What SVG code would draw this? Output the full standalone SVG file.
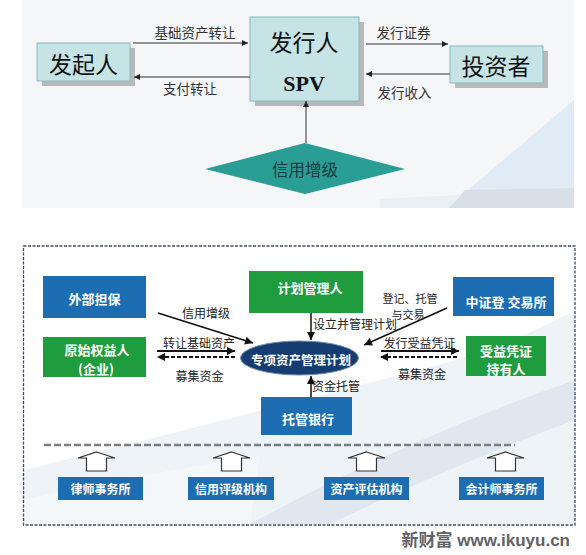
<svg xmlns="http://www.w3.org/2000/svg" width="586" height="555" viewBox="0 0 586 555">
<style>
.cj{font-family:"Noto Sans CJK SC","Liberation Sans",sans-serif}
.tb{fill:#c6e3e5;stroke:#86b7bc;stroke-width:1}
.sh{fill:#b9b9b9}
.big{font-size:23px;fill:#111}
.lb{font-size:13.5px;fill:#333}
.tl{stroke:#333;stroke-width:1;fill:none}
.bl{fill:#1c6db2}
.gr{fill:#1f9c3e}
.wt{font-size:13px;fill:#fff;font-weight:bold}
.ws{font-size:12px;fill:#fff;font-weight:bold}
.sm{font-size:12px;fill:#222}
.ln{stroke:#111;stroke-width:1.5;fill:none}
.lt{stroke:#111;stroke-width:2.2;fill:none}
.ld{stroke:#111;stroke-width:2.2;fill:none;stroke-dasharray:4 2}
.ho{fill:#fff;stroke:#333;stroke-width:1.2}
</style>
<defs>
<marker id="as" viewBox="0 0 10 10" refX="10" refY="5" markerWidth="7" markerHeight="6" orient="auto" markerUnits="userSpaceOnUse"><path d="M0,0 L10,5 L0,10 z" fill="#222"/></marker>
<marker id="ab" viewBox="0 0 10 10" refX="10" refY="5" markerWidth="9" markerHeight="8" orient="auto" markerUnits="userSpaceOnUse"><path d="M0,0 L10,5 L0,10 z" fill="#111"/></marker>
</defs>

<!-- top panel background -->
<rect x="22" y="0" width="552" height="208" fill="#f5f6f8"/>
<polygon points="574,100 574,190 462,195" fill="#e0ebf6"/>
<polygon points="448,208 574,208 574,188 465,190" fill="#d9dfe6"/>
<polygon points="380,208 448,208 462,195 380,199" fill="#eaeff4"/>

<g id="faqiren">
<rect class="sh" x="42" y="48" width="93" height="38"/>
<rect class="tb" x="37" y="43" width="93" height="38"/>
<text class="cj big" x="83.5" y="63" text-anchor="middle" dominant-baseline="central">发起人</text>
</g>
<g id="faxingren">
<rect class="sh" x="255" y="22" width="109" height="84"/>
<rect class="tb" x="250" y="17" width="109" height="84"/>
<text class="cj big" x="304" y="41" text-anchor="middle" dominant-baseline="central">发行人</text>
<text x="304" y="91" text-anchor="middle" font-family="Liberation Serif,serif" font-weight="bold" font-size="22" fill="#111">SPV</text>
</g>
<g id="touzizhe">
<rect class="sh" x="455" y="51" width="93" height="37"/>
<rect class="tb" x="450" y="46" width="93" height="37"/>
<text class="cj big" x="496" y="65" text-anchor="middle" dominant-baseline="central">投资者</text>
</g>
<g id="xinyongzengji">
<polygon points="205,169 305,143 405,169 305,194" fill="#2a9d95"/>
<text class="cj" x="305" y="169" font-size="16.5" fill="#1d3b44" text-anchor="middle" dominant-baseline="central">信用增级</text>
</g>

<g id="top-connectors">
<path class="tl" d="M133,43 H248" marker-end="url(#as)"/>
<path class="tl" d="M250,77 H134" marker-end="url(#as)"/>
<path class="tl" d="M366,44 H448" marker-end="url(#as)"/>
<path class="tl" d="M450,74 H366" marker-end="url(#as)"/>
<path class="tl" d="M306,143 V101" marker-end="url(#as)"/>
<text class="cj lb" x="195" y="32" text-anchor="middle" dominant-baseline="central">基础资产转让</text>
<text class="cj lb" x="190" y="88" text-anchor="middle" dominant-baseline="central">支付转让</text>
<text class="cj lb" x="403.5" y="32" text-anchor="middle" dominant-baseline="central">发行证券</text>
<text class="cj lb" x="404.5" y="92" text-anchor="middle" dominant-baseline="central">发行收入</text>
</g>

<!-- bottom panel -->
<rect x="23.5" y="246" width="551.5" height="279" fill="#ffffff"/>
<path d="M24,470 C150,440 300,400 420,370 C480,355 540,330 575,310 L575,524 L24,524 z" fill="#eef3f8"/>
<path d="M250,524 C350,470 460,420 575,380 L575,420 C480,455 390,495 330,524 z" fill="#e0e7ee"/>
<path d="M24,500 C100,480 180,470 260,455 L250,524 L24,524 z" fill="#f4f7fa"/>
<rect x="23.5" y="246" width="551.5" height="279" fill="none" stroke="#3f4b68" stroke-width="1.3" stroke-dasharray="3 1.5"/>

<g id="waibudanbao">
<rect class="bl" x="43" y="276" width="103" height="42"/>
<text class="cj wt" x="94.5" y="298" text-anchor="middle" dominant-baseline="central">外部担保</text>
</g>
<g id="yuanshiquanyiren">
<rect class="gr" x="43" y="337" width="103" height="40"/>
<text class="cj wt" x="97" y="349.5" text-anchor="middle" dominant-baseline="central">原始权益人</text>
<text class="cj wt" x="96" y="368" text-anchor="middle" dominant-baseline="central">(企业)</text>
</g>
<g id="jihuaguanliren">
<rect class="gr" x="249" y="271" width="114" height="42"/>
<text class="cj wt" x="310" y="287" text-anchor="middle" dominant-baseline="central">计划管理人</text>
</g>
<g id="zhongzhengdeng">
<rect class="bl" x="453" y="277" width="101" height="39"/>
<text class="cj wt" x="506" y="301" text-anchor="middle" dominant-baseline="central">中证登 交易所</text>
</g>
<g id="shouyipingzheng">
<rect class="gr" x="466" y="336" width="80" height="40"/>
<text class="cj wt" x="506" y="350.5" text-anchor="middle" dominant-baseline="central">受益凭证</text>
<text class="cj wt" x="506" y="368" text-anchor="middle" dominant-baseline="central">持有人</text>
</g>
<g id="zhuanxiangjihua">
<ellipse cx="299.5" cy="358" rx="59" ry="17" fill="#163d72" stroke="#6f8fb5" stroke-width="1"/>
<text class="cj" x="301" y="359" font-size="12.5" fill="#fff" font-weight="bold" text-anchor="middle" dominant-baseline="central">专项资产管理计划</text>
</g>
<g id="tuoguanyinhang">
<rect class="bl" x="261" y="397" width="91" height="38"/>
<text class="cj wt" x="308" y="418" text-anchor="middle" dominant-baseline="central">托管银行</text>
</g>

<g id="lvshi">
<path class="ho" d="M96.5,452 L115,458 H106.5 V471 H86.5 V458 H78 z"/>
<rect class="bl" x="58" y="477" width="85" height="23"/>
<text class="cj ws" x="100.5" y="488" text-anchor="middle" dominant-baseline="central">律师事务所</text>
</g>
<g id="pingji">
<path class="ho" d="M231.5,452 L250,458 H241.5 V471 H221.5 V458 H213 z"/>
<rect class="bl" x="188" y="477" width="86" height="23"/>
<text class="cj ws" x="231" y="488" text-anchor="middle" dominant-baseline="central">信用评级机构</text>
</g>
<g id="pinggu">
<path class="ho" d="M366.5,452 L385,458 H376.5 V471 H356.5 V458 H348 z"/>
<rect class="bl" x="324" y="477" width="85" height="23"/>
<text class="cj ws" x="366.5" y="488" text-anchor="middle" dominant-baseline="central">资产评估机构</text>
</g>
<g id="kuaiji">
<path class="ho" d="M505.5,452 L524,458 H515.5 V471 H495.5 V458 H487 z"/>
<rect class="bl" x="459" y="477" width="85" height="23"/>
<text class="cj ws" x="501.5" y="488" text-anchor="middle" dominant-baseline="central">会计师事务所</text>
</g>

<g id="bottom-connectors">
<path d="M44,445 H515" stroke="#7a7e84" stroke-width="2.5" stroke-dasharray="7 3" fill="none"/>
<path class="ln" d="M158,313 L253,343" marker-end="url(#ab)"/>
<path class="lt" d="M157,351 H235" marker-end="url(#ab)"/>
<path class="ld" d="M235,357 H157" marker-end="url(#ab)"/>
<path class="ln" d="M311,313 V340" marker-end="url(#ab)"/>
<path class="ln" d="M311,397 V376" marker-end="url(#ab)"/>
<path class="ln" d="M447,308 L364,345" marker-end="url(#ab)"/>
<path class="lt" d="M381,351 H459" marker-end="url(#ab)"/>
<path class="ld" d="M457,357 H380" marker-end="url(#ab)"/>
<text class="cj sm" x="206" y="312" text-anchor="middle" dominant-baseline="central">信用增级</text>
<text class="cj sm" x="199" y="342" text-anchor="middle" dominant-baseline="central">转让基础资产</text>
<text class="cj sm" x="199.5" y="375" text-anchor="middle" dominant-baseline="central">募集资金</text>
<text class="cj sm" x="355" y="323" text-anchor="middle" dominant-baseline="central">设立并管理计划</text>
<text class="cj sm" x="336" y="385" text-anchor="middle" dominant-baseline="central">资金托管</text>
<text class="cj" x="410" y="298" font-size="11" fill="#222" text-anchor="middle" dominant-baseline="central">登记、托管</text>
<text class="cj" x="408" y="314" font-size="11" fill="#222" text-anchor="middle" dominant-baseline="central">与交易</text>
<text class="cj sm" x="419.5" y="342" text-anchor="middle" dominant-baseline="central">发行受益凭证</text>
<text class="cj sm" x="422" y="373" text-anchor="middle" dominant-baseline="central">募集资金</text>
</g>

<text x="570" y="546" text-anchor="end" font-family="Liberation Sans,Noto Sans CJK SC,sans-serif" font-weight="bold" font-size="17" fill="#5f6266">新财富 www.ikuyu.cn</text>
</svg>
